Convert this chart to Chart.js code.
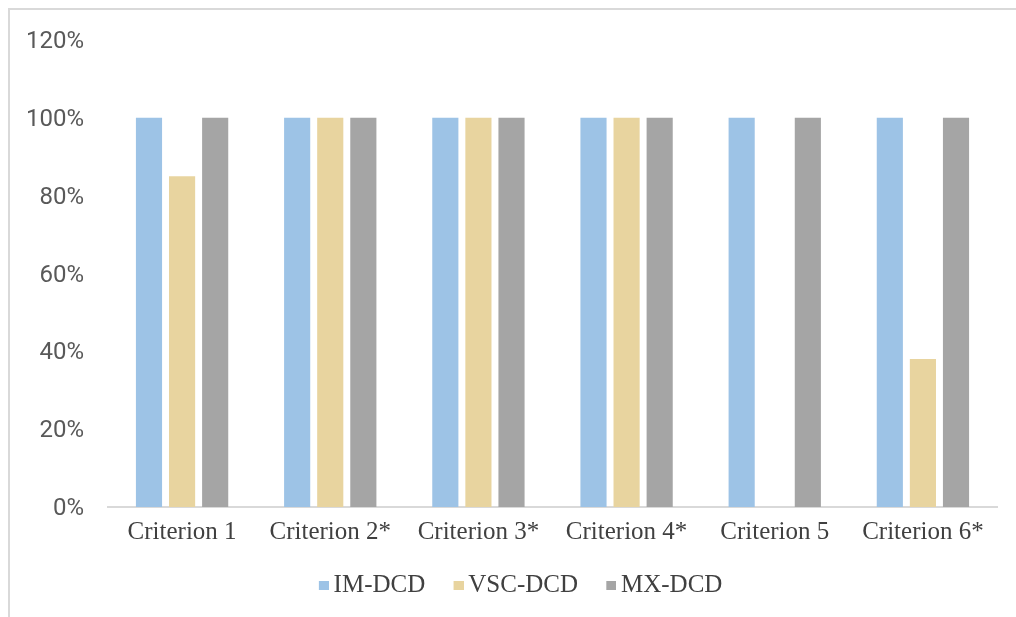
<!DOCTYPE html>
<html>
<head>
<meta charset="utf-8">
<script src="https://cdn.jsdelivr.net/npm/chart.js@4/dist/chart.umd.min.js"></script>
<style>
  html, body { margin: 0; padding: 0; background: #fff; overflow: hidden; }
  #wrap { position: relative; width: 1016px; height: 617px; }
  #frame { position: absolute; left: 8px; top: 8px; width: 1100px; height: 700px;
           border: 2px solid #d9d9d9; box-sizing: border-box; }
  #c { position: absolute; left: 0; top: 0; }
</style>
</head>
<body>
<div id="wrap">
  <div id="frame"></div>
  <canvas id="c" width="1016" height="617"></canvas>
</div>
<script>
// Share of each criterion satisfied, per detector variant (percent)
const categories = ['Criterion 1', 'Criterion 2*', 'Criterion 3*', 'Criterion 4*', 'Criterion 5', 'Criterion 6*'];
const imDcd  = [100, 100, 100, 100, 100, 100];
const vscDcd = [85, 100, 100, 100, 0, 38];
const mxDcd  = [100, 100, 100, 100, 100, 100];
const yTicks = [0, 20, 40, 60, 80, 100, 120];

const serif = "'Liberation Serif', 'Times New Roman', serif";
const sans = "Roboto, 'Liberation Sans', sans-serif";

// Legend swatch: a wide transparent image with the square at its right end,
// so the square sits just before its label text
function swatch(color) {
  const cv = document.createElement('canvas');
  cv.width = 42; cv.height = 9;
  const g = cv.getContext('2d');
  g.fillStyle = color;
  g.fillRect(32, 0, 10, 9);
  return cv;
}

new Chart(document.getElementById('c'), {
  type: 'bar',
  data: {
    labels: categories,
    datasets: [
      { label: 'IM-DCD',  data: imDcd,  backgroundColor: '#9dc3e6' },
      { label: 'VSC-DCD', data: vscDcd, backgroundColor: '#e8d49f' },
      { label: 'MX-DCD',  data: mxDcd,  backgroundColor: '#a5a5a5' }
    ]
  },
  options: {
    responsive: false,
    animation: false,
    devicePixelRatio: 1,
    layout: { padding: { top: 40, right: 19, bottom: 9, left: 20 } },
    datasets: { bar: { categoryPercentage: 0.67, barPercentage: 0.79 } },
    scales: {
      x: {
        afterFit: (axis) => { axis.height = 62; },
        grid: { display: false },
        border: { display: true, color: '#d9d9d9', width: 2 },
        ticks: { color: '#404040', font: { family: serif, size: 25 }, padding: 2, maxRotation: 0 }
      },
      y: {
        min: 0, max: 120,
        afterBuildTicks: (axis) => { axis.ticks = yTicks.map(v => ({ value: v })); },
        afterFit: (axis) => { axis.width = 88; },
        grid: { display: false },
        border: { display: false },
        ticks: { color: '#595959', font: { family: sans, size: 24 }, padding: 16, labelOffset: 2,
                 callback: (v) => v + '%' }
      }
    },
    plugins: {
      legend: {
        position: 'bottom',
        labels: {
          color: '#404040', font: { family: serif, size: 25 },
          usePointStyle: true, pointStyleWidth: 26.5, boxHeight: 10, padding: 4,
          generateLabels: (chart) => {
            const items = Chart.defaults.plugins.legend.labels.generateLabels(chart);
            items.forEach(it => { it.pointStyle = swatch(it.fillStyle); });
            return items;
          }
        }
      },
      tooltip: { enabled: false }
    }
  }
});
</script>
</body>
</html>
